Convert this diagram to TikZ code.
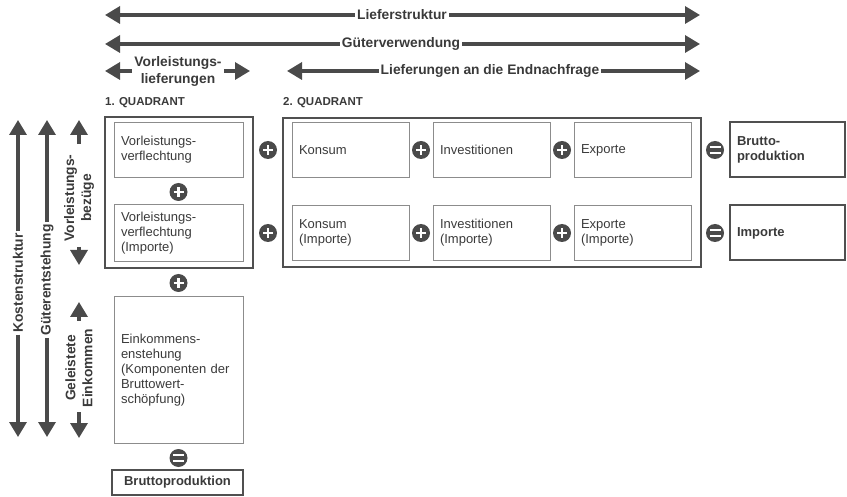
\documentclass[tikz,border=0pt]{standalone}
\usepackage{fontspec}
\setmainfont{Liberation Sans}
\usetikzlibrary{arrows.meta,positioning}
\definecolor{ink}{HTML}{3A3A3A}
\definecolor{arrowgray}{HTML}{4A4A4A}
\definecolor{thinframe}{HTML}{8C8C8C}
\definecolor{heavyframe}{HTML}{505050}

\begin{document}
\begin{tikzpicture}[x=1pt,y=-1pt,>={Triangle[length=15pt,width=17pt]},
  every node/.style={text=ink},
  lbl/.style={font=\fontsize{13.8}{17}\selectfont\bfseries,inner sep=2pt,align=center},
  quad/.style={font=\fontsize{11.5}{13}\selectfont\bfseries,anchor=west,inner sep=0pt},
  flow/.style={->,line width=3.4pt,draw=arrowgray},
  cell/.style={draw=thinframe,line width=1pt,font=\fontsize{13}{15}\selectfont,align=left,
    text width=#1,inner sep=7pt,minimum height=55pt},
  result/.style={cell=#1,draw=heavyframe,line width=2pt,font=\fontsize{13}{15}\selectfont\bfseries},
  quadbox/.style={draw=heavyframe,line width=2.5pt,inner sep=0pt},
  plus/.style={circle,fill=arrowgray,minimum size=18pt,inner sep=0pt,
    path picture={\draw[white,line width=2.8pt]
      ([xshift=-5pt]path picture bounding box.center) -- ([xshift=5pt]path picture bounding box.center)
      ([yshift=-5pt]path picture bounding box.center) -- ([yshift=5pt]path picture bounding box.center);}},
  equal/.style={circle,fill=arrowgray,minimum size=18pt,inner sep=0pt,
    path picture={\draw[white,line width=2.2pt]
      ([xshift=-5.5pt,yshift=2.8pt]path picture bounding box.center) -- ([xshift=5.5pt,yshift=2.8pt]path picture bounding box.center)
      ([xshift=-5.5pt,yshift=-2.8pt]path picture bounding box.center) -- ([xshift=5.5pt,yshift=-2.8pt]path picture bounding box.center);}}]
  \useasboundingbox (0,0) rectangle (847,497);

  % arrows on top
  \node[lbl] (lieferstruktur) at (402,15) {Lieferstruktur};
  \coordinate (ls-l) at (105,15);
  \coordinate (ls-r) at (700,15);
  \draw[flow] (lieferstruktur.west) -- (ls-l);
  \draw[flow] (lieferstruktur.east) -- (ls-r);
  \node[lbl] (gueterverw) at (401,44) {Güterverwendung};
  \coordinate (gv-l) at (105,44);
  \coordinate (gv-r) at (700,44);
  \draw[flow] (gueterverw.west) -- (gv-l);
  \draw[flow] (gueterverw.east) -- (gv-r);
  \node[lbl] (vlief) at (178,71) {Vorleistungs-\\lieferungen};
  \coordinate (vl-l) at (105,71);
  \coordinate (vl-r) at (250,71);
  \draw[flow] (vlief.west) -- (vl-l);
  \draw[flow] (vlief.east) -- (vl-r);
  \node[lbl] (endnachfrage) at (490,71) {Lieferungen an die Endnachfrage};
  \coordinate (en-l) at (287,71);
  \coordinate (en-r) at (700,71);
  \draw[flow] (endnachfrage.west) -- (en-l);
  \draw[flow] (endnachfrage.east) -- (en-r);

  % arrows on the left
  \node[lbl,rotate=90] (kosten) at (18,283) {Kostenstruktur};
  \coordinate (ks-t) at (18,120);
  \coordinate (ks-b) at (18,437);
  \draw[flow] (kosten.east) -- (ks-t);
  \draw[flow] (kosten.west) -- (ks-b);
  \node[lbl,rotate=90] (entstehung) at (47,280) {Güterentstehung};
  \coordinate (ge-t) at (47,120);
  \coordinate (ge-b) at (47,437);
  \draw[flow] (entstehung.east) -- (ge-t);
  \draw[flow] (entstehung.west) -- (ge-b);
  \node[lbl,rotate=90] (bezuege) at (79,198) {Vorleistungs-\\bezüge};
  \coordinate (vb-t) at (79,120);
  \coordinate (vb-b) at (79,265);
  \draw[flow,shorten <=8pt] (bezuege.east) -- (vb-t);
  \draw[flow,shorten <=3pt] (bezuege.west) -- (vb-b);
  \node[lbl,rotate=90] (einkommen) at (79,368) {Geleistete\\Einkommen};
  \coordinate (ek-t) at (79,302);
  \coordinate (ek-b) at (79,438);
  \draw[flow,shorten <=6pt] (einkommen.east) -- (ek-t);
  \draw[flow,shorten <=3pt] (einkommen.west) -- (ek-b);

  % 1. Quadrant
  \node[quad] (q1label) at (105,103) {1. QUADRANT};
  \node[quadbox,minimum width=148pt,minimum height=151pt] (q1) at (179,192.5) {};
  \node[cell=115pt] (vv) at (178.5,150) {Vorleistungs-\\verflechtung};
  \node[plus] (p-vv) at (178.5,192) {};
  \node[cell=115pt] (vvi) at (178.5,233) {Vorleistungs-\\verflechtung\\(Importe)};
  \node[plus] (p-q1) at (178.5,283) {};
  \node[cell=115pt,minimum height=146pt] (eink) at (178.5,370)
    {Einkommens-\\enstehung\\(Komponenten der\\Bruttowert-\\schöpfung)};
  \node[equal] (e-eink) at (178.5,458) {};
  \node[draw=heavyframe,line width=2pt,minimum width=131pt,minimum height=25pt,inner sep=0pt,
    font=\fontsize{13}{15}\selectfont\bfseries] (bp-unten) at (177.5,482.5) {Bruttoproduktion};
  \node[plus] (p1) at (268,150) {};
  \node[plus] (p2) at (268,233) {};

  % 2. Quadrant
  \node[quad] (q2label) at (283,103) {2. QUADRANT};
  \node[quadbox,minimum width=418pt,minimum height=149pt] (q2) at (492,192.5) {};
  \node[cell=103pt] (konsum) at (350.5,150) {Konsum};
  \node[plus] (p3) at (421,150) {};
  \node[cell=103pt] (invest) at (491.5,150) {Investitionen};
  \node[plus] (p4) at (562,150) {};
  \node[cell=103pt] (export) at (632.5,150) {Exporte};
  \node[cell=103pt] (konsumi) at (350.5,233) {Konsum\\(Importe)};
  \node[plus] (p5) at (421,233) {};
  \node[cell=103pt] (investi) at (491.5,233) {Investitionen\\(Importe)};
  \node[plus] (p6) at (562,233) {};
  \node[cell=103pt] (exporti) at (632.5,233) {Exporte\\(Importe)};

  % Ergebnisse
  \node[equal] (e1) at (715,150) {};
  \node[result=101pt] (bp-rechts) at (787.5,150) {Brutto-\\produktion};
  \node[equal] (e2) at (715,233) {};
  \node[result=101pt] (importe) at (787.5,233) {Importe};
\end{tikzpicture}
\end{document}
